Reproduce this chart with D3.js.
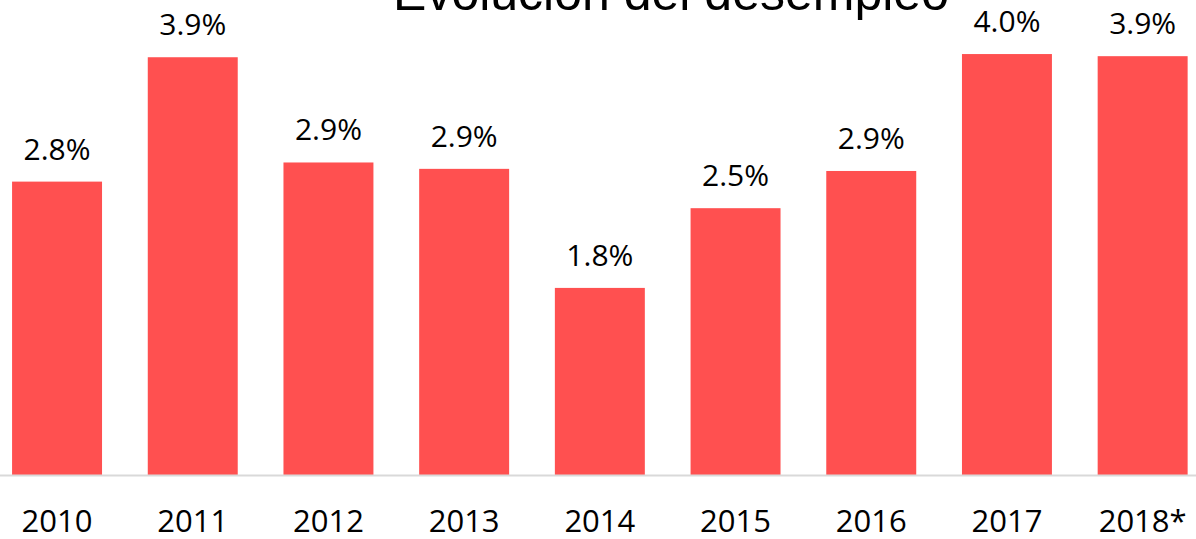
<!DOCTYPE html>
<html>
<head>
<meta charset="utf-8">
<script src="https://cdn.jsdelivr.net/npm/d3@7.9.0/dist/d3.min.js"></script>
<style>
  body { margin: 0; background: #fff; }
  svg { display: block; }
</style>
</head>
<body>
<div id="chart"></div>
<script>
// data
const years = ["2010", "2011", "2012", "2013", "2014", "2015", "2016", "2017", "2018*"];
const rates = [2.76, 3.93, 2.94, 2.88, 1.76, 2.51, 2.86, 3.96, 3.94];
const title = "Evolución del desempleo";

const width = 1196;
const height = 539;
const baseY = 475;

const svg = d3.select("#chart")
    .append("svg")
    .attr("width", width)
    .attr("height", height);

const x = d3.scaleBand()
    .domain(years)
    .range([-10.8, 1210.5])
    .paddingInner(0.337)
    .paddingOuter(0.1685);

const y = d3.scaleLinear()
    .domain([0, 4.4])
    .range([baseY, baseY - 4.4 * 106.3]);

const fmt = d3.format(".1f");

// bars
svg.append("g")
    .selectAll("rect")
    .data(years)
    .join("rect")
    .attr("x", d => x(d))
    .attr("width", x.bandwidth())
    .attr("y", (d, i) => y(rates[i]))
    .attr("height", (d, i) => y(0) - y(rates[i]))
    .attr("fill", "#FF5050");

// axis line
svg.append("line")
    .attr("x1", 0)
    .attr("x2", width)
    .attr("y1", baseY + 0.5)
    .attr("y2", baseY + 0.5)
    .attr("stroke", "#d9d9d9")
    .attr("stroke-width", 2);

// value labels
svg.append("g")
    .selectAll("text")
    .data(years)
    .join("text")
    .attr("x", d => x(d) + x.bandwidth() / 2)
    .attr("y", (d, i) => y(rates[i]) - 22)
    .attr("text-anchor", "middle")
    .style("font-family", "'Open Sans', sans-serif")
    .style("font-size", "30px")
    .attr("fill", "#000")
    .text((d, i) => fmt(rates[i]) + "%");

// category labels
const xAxis = svg.append("g")
    .attr("transform", `translate(0,${baseY})`)
    .call(d3.axisBottom(x).tickSize(0).tickPadding(0));
xAxis.select(".domain").remove();
xAxis.selectAll("text")
    .attr("dy", null)
    .attr("y", 57)
    .style("font-family", "'Open Sans', sans-serif")
    .style("font-size", "31px")
    .attr("fill", "#000");

// title (cut off at top, as in the original)
svg.append("text")
    .attr("x", 671)
    .attr("y", 10)
    .attr("text-anchor", "middle")
    .style("font-family", "'Liberation Sans', Arial, sans-serif")
    .style("font-size", "50px")
    .attr("fill", "#000")
    .text(title);
</script>
</body>
</html>
